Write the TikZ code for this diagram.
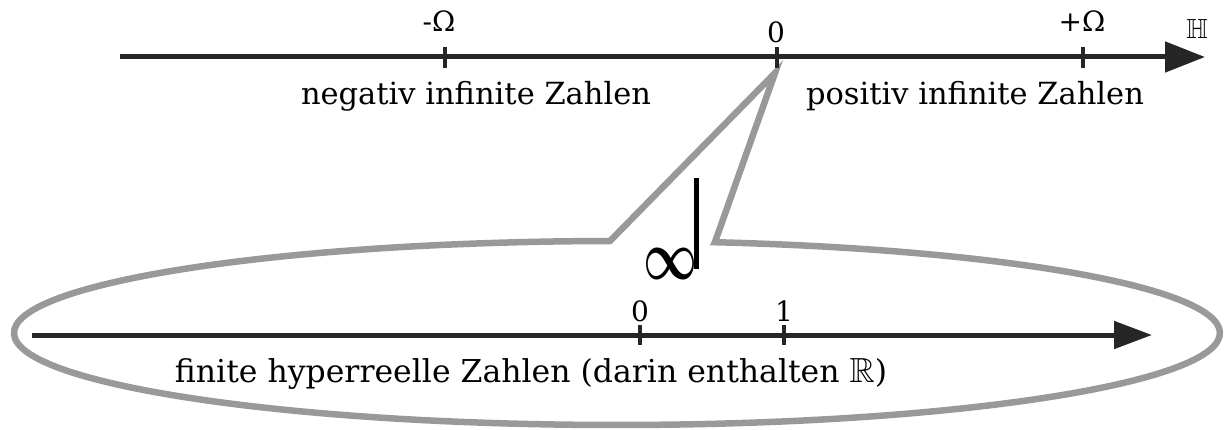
\documentclass[tikz,border=0pt]{standalone}
\usepackage{amssymb}
\usepackage{bm}
\usepackage{graphicx}
\usepackage{fontspec}
\setmainfont{DejaVu Serif}
\usetikzlibrary{arrows.meta}
\tikzset{
  axisline/.style={line width=5pt, draw=black!85},
  tickmark/.style={line width=4pt, draw=black!85},
  lbl/.style={font=\fontsize{28}{32}\selectfont, inner sep=0pt, anchor=base},
  txt/.style={font=\fontsize{30.5}{36}\selectfont, inner sep=0pt, anchor=base},
  txtb/.style={font=\fontsize{31.5}{38}\selectfont, inner sep=0pt, anchor=base},
  callout/.style={line width=6.5pt, draw=black!40, line join=miter, miter limit=20}
}
\begin{document}
\begin{tikzpicture}[x=1pt,y=1pt]
\useasboundingbox (0,0) rectangle (1227,429);
% callout + ellipse
\coordinate (rf) at (715,187);
\coordinate (tip) at (775,356);
\coordinate (lf) at (610,188);
\draw[callout] (rf) -- (tip) -- (lf) arc[start angle=90.66, end angle=440.65, x radius=603pt, y radius=92pt] -- cycle;
% top axis
\coordinate (ta) at (120,372);
\coordinate (tb) at (1205,372);
\draw[axisline, -{Triangle[length=40pt,width=30pt]}] (ta) -- (tb);
\foreach \n/\x in {tm/445, tz/777, tp/1083}{
  \coordinate (\n1) at (\x,361);
  \coordinate (\n2) at (\x,382);
  \draw[tickmark] (\n1) -- (\n2);
}
\node[lbl] (lm) at (439,397) {-Ω};
\node[lbl] (l0) at (776,386) {0};
\node[lbl] (lp) at (1082,397) {+Ω};
\node[lbl] (lH) at (1197,390) {\resizebox{!}{19pt}{$\mathbb{H}$}};
\node[txt] (neg) at (476,324) {negativ infinite Zahlen};
\node[txt] (pos) at (975,324) {positiv infinite Zahlen};
% infinity with stem
\node[inner sep=0pt] (inf) at (671,165) {\resizebox{54pt}{31pt}{$\bm{\infty}$}};
\coordinate (s1) at (696,251);
\coordinate (s2) at (696,160);
\draw[line width=5pt] (s1) -- (s2);
% bottom axis
\coordinate (ba) at (32,94);
\coordinate (bb) at (1152,94);
\draw[axisline, -{Triangle[length=38pt,width=27pt]}] (ba) -- (bb);
\foreach \n/\x in {bz/640, bo/784}{
  \coordinate (\n1) at (\x,84);
  \coordinate (\n2) at (\x,104);
  \draw[tickmark] (\n1) -- (\n2);
}
\node[lbl] (b0) at (640,107) {0};
\node[lbl] (b1) at (784,107) {1};
\node[txtb] (fin) at (531,47) {finite hyperreelle Zahlen (darin enthalten \resizebox{!}{24pt}{$\mathbb{R}$})};
\end{tikzpicture}
\end{document}
